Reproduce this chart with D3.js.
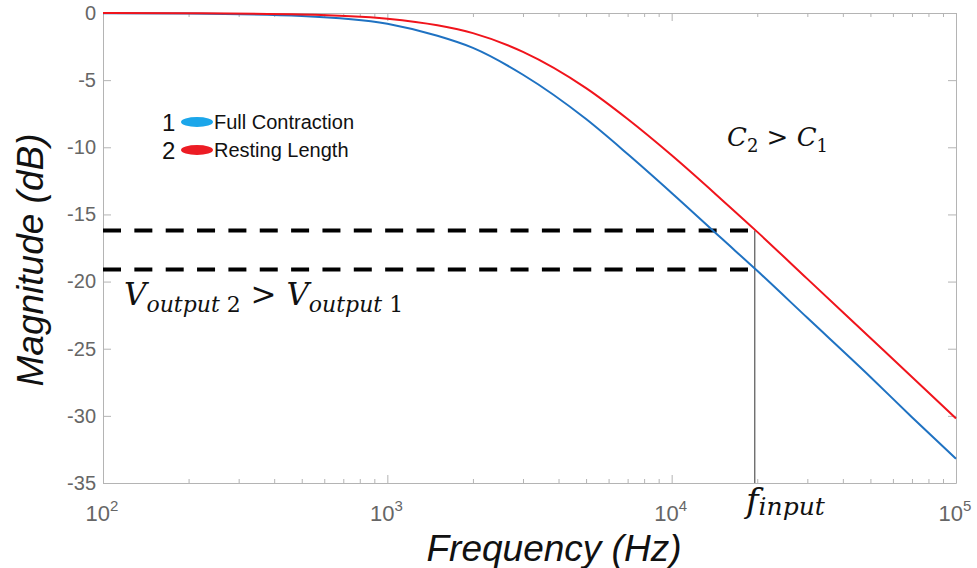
<!DOCTYPE html>
<html>
<head>
<meta charset="utf-8">
<script src="https://cdn.jsdelivr.net/npm/d3@7"></script>
<style>
  body { margin: 0; background: #fff; }
  svg { display: block; }
  .axis path, .axis line { stroke: #b4b4b4; }
  .axis text { fill: #666; font-family: "Liberation Sans", Arial, sans-serif; }
  .serif { font-family: "DejaVu Serif", "Liberation Serif", serif; fill: #111; }
</style>
</head>
<body>
<div id="chart"></div>
<script>
// values (frequency in Hz, magnitude in dB)
const freqs = [100, 200, 500, 1000, 1500, 2000, 3000, 5000, 7000, 10000, 15000, 20000, 30000, 50000, 70000, 100000];
const fullContraction = [-0.01, -0.04, -0.22, -0.8, -1.7, -2.6, -4.6, -7.9, -10.5, -13.4, -16.8, -19.2, -22.7, -27.1, -30.1, -33.2];
const restingLength = [0, -0.02, -0.11, -0.43, -0.92, -1.5, -2.9, -5.6, -7.9, -10.6, -13.9, -16.3, -19.8, -24.2, -27.1, -30.2];

const seriesNames = ['Full Contraction', 'Resting Length'];
const lineColors = ['#1f72c2', '#f0141c'];
const legendColors = ['#1ba6ea', '#ec1c24'];

const xMajor = [1e2, 1e3, 1e4, 1e5];
const xExp = ['2', '3', '4', '5'];
const yTicks = [0, -5, -10, -15, -20, -25, -30, -35];

// f_input marker and the two output levels there
const fInput = 19600;
const outputLevels = [-16.2, -19.1];

const width = 977;
const height = 568;
const marginTop = 13;
const marginBottom = 85;
const marginLeft = 103;
const marginRight = 21;

const x = d3.scaleLog()
  .domain([1e2, 1e5])
  .range([marginLeft, width - marginRight]);
const y = d3.scaleLinear()
  .domain([-35, 0])
  .range([height - marginBottom, marginTop]);

// minor ticks 2..9 in each decade
const xMinor = [];
xMajor.slice(0, -1).forEach(d => {
  for (let k = 2; k < 10; k++) xMinor.push(d * k);
});

const svg = d3.select('#chart').append('svg')
  .attr('width', width)
  .attr('height', height);

const x0 = marginLeft;
const x1 = width - marginRight;
const y0 = height - marginBottom;
const y1 = marginTop;

// axes (box, ticks inward)
svg.append('g').attr('class', 'axis')
  .attr('transform', `translate(0,${y0})`)
  .call(d3.axisBottom(x).tickValues(xMajor).tickSize(-8).tickSizeOuter(0).tickFormat(''))
  .call(g => g.selectAll('.tick text').remove());
svg.append('g').attr('class', 'axis')
  .attr('transform', `translate(0,${y0})`)
  .call(d3.axisBottom(x).tickValues(xMinor).tickSize(-4).tickSizeOuter(0).tickFormat(''))
  .call(g => g.select('.domain').remove());
svg.append('g').attr('class', 'axis')
  .attr('transform', `translate(0,${y1})`)
  .call(d3.axisTop(x).tickValues(xMajor).tickSize(-8).tickSizeOuter(0).tickFormat(''));
svg.append('g').attr('class', 'axis')
  .attr('transform', `translate(0,${y1})`)
  .call(d3.axisTop(x).tickValues(xMinor).tickSize(-4).tickSizeOuter(0).tickFormat(''))
  .call(g => g.select('.domain').remove());
svg.append('g').attr('class', 'axis')
  .attr('transform', `translate(${x0},0)`)
  .call(d3.axisLeft(y).tickValues(yTicks).tickSize(-8).tickSizeOuter(0).tickPadding(7).tickFormat(d => d === 0 ? '0' : '-' + Math.abs(d)))
  .call(g => g.selectAll('.tick text').attr('font-size', 20));
svg.append('g').attr('class', 'axis')
  .attr('transform', `translate(${x1},0)`)
  .call(d3.axisRight(y).tickValues(yTicks).tickSize(-8).tickSizeOuter(0).tickFormat(''));

// x tick labels 10^n
const xl = svg.append('g').attr('class', 'axis');
xMajor.forEach((d, i) => {
  const t = xl.append('text')
    .attr('x', x(d) - 1)
    .attr('y', y0 + 38)
    .attr('text-anchor', 'middle')
    .attr('font-size', 22);
  t.append('tspan').text('10');
  t.append('tspan').attr('font-size', 15).attr('dy', -10).text(xExp[i]);
});

// dashed output levels
svg.selectAll('.level')
  .data(outputLevels)
  .enter()
  .append('line')
  .attr('class', 'level')
  .attr('x1', x0)
  .attr('x2', x(fInput) - 4)
  .attr('y1', d => y(d))
  .attr('y2', d => y(d))
  .attr('stroke', '#000')
  .attr('stroke-width', 4)
  .attr('stroke-dasharray', '18,13.35');

// f_input vertical
svg.append('line')
  .attr('x1', x(fInput)).attr('x2', x(fInput))
  .attr('y1', y(outputLevels[0])).attr('y2', y0)
  .attr('stroke', '#555')
  .attr('stroke-width', 1.2);

// curves
const line = d3.line()
  .x((d, i) => x(freqs[i]))
  .y(d => y(d))
  .curve(d3.curveMonotoneX);

[fullContraction, restingLength].forEach((s, i) => {
  svg.append('path')
    .attr('d', line(s))
    .attr('fill', 'none')
    .attr('stroke', lineColors[i])
    .attr('stroke-width', 2);
});

// legend
const legend = svg.append('g').attr('font-family', '"Liberation Sans", Arial, sans-serif');
seriesNames.forEach((name, i) => {
  const cy = 122 + i * 28;
  legend.append('text')
    .attr('x', 162).attr('y', cy + 9)
    .attr('font-size', 24).attr('fill', '#111')
    .text(i + 1);
  legend.append('ellipse')
    .attr('cx', 197).attr('cy', cy)
    .attr('rx', 16).attr('ry', 5)
    .attr('fill', legendColors[i]);
  legend.append('text')
    .attr('x', 214).attr('y', cy + 7)
    .attr('font-size', 20).attr('fill', '#111')
    .text(name);
});

// annotations
const c = svg.append('text').attr('class', 'serif')
  .attr('x', 727).attr('y', 146).attr('font-size', 26);
c.append('tspan').attr('font-style', 'italic').text('C');
c.append('tspan').attr('font-size', 18).attr('dy', 6).text('2');
c.append('tspan').attr('dy', -6).text(' > ');
c.append('tspan').attr('font-style', 'italic').text('C');
c.append('tspan').attr('font-size', 18).attr('dy', 6).text('1');

const v = svg.append('text').attr('class', 'serif')
  .attr('x', 124).attr('y', 305).attr('font-size', 31);
v.append('tspan').attr('font-style', 'italic').text('V');
v.append('tspan').attr('font-size', 22).attr('dy', 7).attr('font-style', 'italic').text('output');
v.append('tspan').attr('font-size', 22).text(' 2');
v.append('tspan').attr('dy', -7).text(' > ');
v.append('tspan').attr('font-style', 'italic').text('V');
v.append('tspan').attr('font-size', 22).attr('dy', 7).attr('font-style', 'italic').text('output');
v.append('tspan').attr('font-size', 22).text(' 1');

const f = svg.append('text').attr('class', 'serif')
  .attr('x', 746).attr('y', 512).attr('font-size', 34).attr('font-style', 'italic');
f.append('tspan').text('f');
f.append('tspan').attr('font-size', 25).attr('dy', 3).text('input');

// axis titles
svg.append('text')
  .attr('x', 554).attr('y', 561)
  .attr('text-anchor', 'middle')
  .attr('font-family', '"Liberation Sans", Arial, sans-serif')
  .attr('font-style', 'italic')
  .attr('font-size', 37)
  .attr('fill', '#111')
  .text('Frequency (Hz)');
svg.append('text')
  .attr('transform', 'translate(43,260) rotate(-90)')
  .attr('text-anchor', 'middle')
  .attr('font-family', '"Liberation Sans", Arial, sans-serif')
  .attr('font-style', 'italic')
  .attr('font-size', 37)
  .attr('fill', '#111')
  .text('Magnitude (dB)');
</script>
</body>
</html>
